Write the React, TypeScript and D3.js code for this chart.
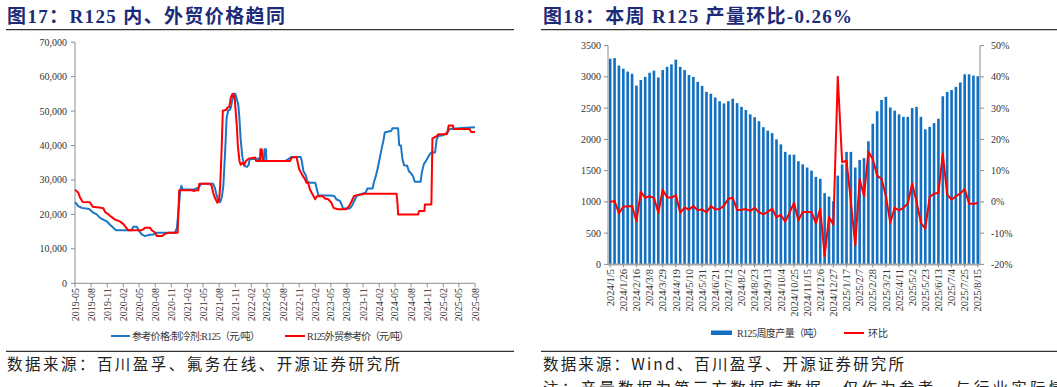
import React from 'react';
import * as d3 from 'd3';

// ---------- Left chart data (图17) ----------
const priceTicks = [0, 10000, 20000, 30000, 40000, 50000, 60000, 70000];
const quarterTicks = [
  '2019-05', '2019-08', '2019-11', '2020-02', '2020-05', '2020-08', '2020-11',
  '2021-02', '2021-05', '2021-08', '2021-11', '2022-02', '2022-05', '2022-08',
  '2022-11', '2023-02', '2023-05', '2023-08', '2023-11', '2024-02', '2024-05',
  '2024-08', '2024-11', '2025-02', '2025-05', '2025-08',
];
const domesticPrice: [string, number][] = [
  ['2019-05-01', 23600], ['2019-05-20', 22400], ['2019-06-08', 21900], ['2019-07-21', 21600],
  ['2019-08-14', 20500], ['2019-09-02', 20000], ['2019-09-21', 19000], ['2019-10-10', 18500],
  ['2019-10-29', 18000], ['2019-11-17', 17000], ['2019-12-06', 16100], ['2019-12-21', 15400],
  ['2020-03-19', 15400], ['2020-03-28', 16400], ['2020-04-19', 16400], ['2020-04-28', 15400],
  ['2020-05-16', 14200], ['2020-06-04', 13700], ['2020-06-22', 14000], ['2020-07-22', 14200],
  ['2020-08-10', 14700], ['2020-11-22', 14700], ['2020-12-03', 16100], ['2020-12-22', 26800],
  ['2020-12-28', 28300], ['2021-01-04', 27300], ['2021-03-07', 27200], ['2021-04-04', 27800],
  ['2021-04-22', 28900], ['2021-06-28', 28900], ['2021-07-07', 27800], ['2021-07-19', 25300],
  ['2021-07-28', 23900], ['2021-08-07', 23600], ['2021-08-16', 24900], ['2021-08-25', 28300],
  ['2021-09-04', 38000], ['2021-09-13', 48200], ['2021-09-22', 50100], ['2021-10-01', 50400],
  ['2021-10-07', 51000], ['2021-10-16', 53500], ['2021-10-22', 55000], ['2021-11-01', 55000],
  ['2021-11-10', 53500], ['2021-11-19', 51600], ['2021-11-25', 47700], ['2021-12-02', 41800],
  ['2021-12-11', 37000], ['2021-12-22', 34100], ['2022-01-07', 33800], ['2022-01-16', 34300],
  ['2022-01-22', 36000], ['2022-03-13', 36200], ['2022-03-16', 35500], ['2022-04-13', 35500],
  ['2022-04-17', 38900], ['2022-04-25', 38900], ['2022-04-28', 35500], ['2022-08-13', 35500],
  ['2022-08-22', 35800], ['2022-09-19', 36700], ['2022-11-10', 36700], ['2022-11-16', 35500],
  ['2022-11-25', 32600], ['2022-12-10', 31200], ['2022-12-16', 29700], ['2023-01-01', 29200],
  ['2023-02-01', 29200], ['2023-02-10', 27300], ['2023-02-19', 25500], ['2023-05-04', 25500],
  ['2023-05-22', 25300], ['2023-06-01', 24400], ['2023-06-22', 23900], ['2023-07-01', 22900],
  ['2023-07-10', 21700], ['2023-08-16', 21700], ['2023-08-28', 22400], ['2023-09-16', 24400],
  ['2023-09-25', 25300], ['2023-10-13', 25800], ['2023-11-16', 26300], ['2023-11-25', 27500],
  ['2023-12-25', 27500], ['2024-01-01', 29200], ['2024-01-13', 31200], ['2024-01-22', 33100],
  ['2024-02-01', 35500], ['2024-02-16', 39400], ['2024-02-25', 41400], ['2024-03-04', 43800],
  ['2024-04-11', 44300], ['2024-04-16', 45000], ['2024-05-19', 45000], ['2024-05-25', 40100],
  ['2024-06-04', 40000], ['2024-06-13', 36000], ['2024-06-22', 34300], ['2024-07-10', 34100],
  ['2024-07-19', 32600], ['2024-08-04', 31700], ['2024-08-13', 31000], ['2024-08-22', 29500],
  ['2024-09-25', 29500], ['2024-10-01', 32100], ['2024-10-13', 34600], ['2024-10-28', 35800],
  ['2024-11-16', 37500], ['2024-11-25', 38000], ['2024-12-16', 38000], ['2024-12-25', 41800],
  ['2025-01-04', 42800], ['2025-02-01', 43000], ['2025-02-25', 43800], ['2025-03-10', 44800],
  ['2025-05-16', 45100], ['2025-08-01', 45300],
];
const exportPrice: [string, number][] = [
  ['2019-05-01', 27200], ['2019-05-20', 26300], ['2019-05-29', 25000], ['2019-06-14', 23600],
  ['2019-07-25', 23500], ['2019-08-05', 22700], ['2019-08-10', 22200], ['2019-09-16', 22000],
  ['2019-10-10', 21800], ['2019-10-20', 20700], ['2019-11-08', 20000], ['2019-11-27', 19200],
  ['2019-12-16', 18500], ['2020-01-14', 17900], ['2020-02-03', 17100], ['2020-02-18', 16100],
  ['2020-03-01', 15400], ['2020-05-16', 15400], ['2020-06-04', 16100], ['2020-07-03', 16100],
  ['2020-07-12', 15400], ['2020-08-01', 14700], ['2020-08-10', 13700], ['2020-09-08', 13700],
  ['2020-09-28', 14400], ['2020-10-16', 14700], ['2020-12-07', 14700], ['2020-12-16', 27000],
  ['2021-02-28', 27000], ['2021-03-07', 26800], ['2021-03-25', 27000], ['2021-04-04', 27000],
  ['2021-04-10', 28900], ['2021-06-10', 28900], ['2021-06-19', 28300], ['2021-06-28', 26300],
  ['2021-07-07', 24900], ['2021-07-22', 23400], ['2021-08-01', 24200], ['2021-08-07', 28300],
  ['2021-08-16', 39900], ['2021-08-22', 50100], ['2021-09-13', 50400], ['2021-09-16', 51000],
  ['2021-09-28', 51200], ['2021-10-07', 54000], ['2021-10-16', 55000], ['2021-10-22', 54000],
  ['2021-10-28', 54500], ['2021-11-01', 51600], ['2021-11-10', 45700], ['2021-11-16', 39900],
  ['2021-11-25', 35500], ['2021-12-02', 34400], ['2021-12-13', 35000], ['2021-12-22', 34400],
  ['2022-01-01', 35500], ['2022-01-16', 36200], ['2022-02-22', 36500], ['2022-02-28', 35500],
  ['2022-03-22', 35500], ['2022-03-25', 38900], ['2022-04-01', 38900], ['2022-04-07', 35500],
  ['2022-09-10', 35500], ['2022-09-19', 36500], ['2022-10-16', 36700], ['2022-10-22', 35500],
  ['2022-11-01', 33100], ['2022-11-16', 31700], ['2022-12-04', 30200], ['2022-12-13', 29200],
  ['2022-12-22', 29200], ['2023-01-01', 27300], ['2023-01-22', 25300], ['2023-02-01', 24400],
  ['2023-02-10', 25300], ['2023-03-16', 25300], ['2023-03-28', 24600], ['2023-04-16', 24400],
  ['2023-05-04', 23400], ['2023-05-16', 21900], ['2023-06-10', 21500], ['2023-07-28', 21500],
  ['2023-08-13', 22400], ['2023-08-28', 23900], ['2023-09-10', 25300], ['2023-09-25', 25600],
  ['2023-10-22', 25800], ['2023-11-10', 26000], ['2024-05-10', 26000], ['2024-05-16', 22900],
  ['2024-05-19', 20000], ['2024-09-10', 20000], ['2024-09-16', 21000], ['2024-10-16', 21000],
  ['2024-10-19', 22900], ['2024-11-25', 22900], ['2024-12-01', 42100], ['2024-12-25', 42700],
  ['2025-01-04', 43300], ['2025-02-22', 43300], ['2025-03-04', 45800], ['2025-03-28', 45800],
  ['2025-04-01', 44800], ['2025-07-01', 44800], ['2025-07-10', 43900], ['2025-08-01', 43900],
];

// ---------- Right chart data (图18) ----------
const weeks = [
  '2024/1/5', '2024/1/12', '2024/1/19', '2024/1/26', '2024/2/2', '2024/2/9', '2024/2/16', '2024/2/23',
  '2024/3/1', '2024/3/8', '2024/3/15', '2024/3/22', '2024/3/29', '2024/4/5', '2024/4/12', '2024/4/19',
  '2024/4/26', '2024/5/3', '2024/5/10', '2024/5/17', '2024/5/24', '2024/5/31', '2024/6/7', '2024/6/14',
  '2024/6/21', '2024/6/28', '2024/7/5', '2024/7/12', '2024/7/19', '2024/7/26', '2024/8/2', '2024/8/9',
  '2024/8/16', '2024/8/23', '2024/8/30', '2024/9/6', '2024/9/13', '2024/9/20', '2024/9/27', '2024/10/4',
  '2024/10/11', '2024/10/18', '2024/10/25', '2024/11/1', '2024/11/8', '2024/11/15', '2024/11/22', '2024/11/29',
  '2024/12/6', '2024/12/13', '2024/12/20', '2024/12/27', '2025/1/3', '2025/1/10', '2025/1/17', '2025/1/24',
  '2025/1/31', '2025/2/7', '2025/2/14', '2025/2/21', '2025/2/28', '2025/3/7', '2025/3/14', '2025/3/21',
  '2025/3/28', '2025/4/4', '2025/4/11', '2025/4/18', '2025/4/25', '2025/5/2', '2025/5/9', '2025/5/16',
  '2025/5/23', '2025/5/30', '2025/6/6', '2025/6/13', '2025/6/20', '2025/6/27', '2025/7/4', '2025/7/11',
  '2025/7/18', '2025/7/25', '2025/8/1', '2025/8/8', '2025/8/15',
];
const output = [
  3290, 3300, 3180, 3130, 3085, 3050, 2860, 2950, 3000, 3065,
  3100, 2990, 3110, 3160, 3200, 3275, 3160, 3110, 3030, 3000,
  2920, 2855, 2760, 2730, 2670, 2610, 2575, 2610, 2650, 2580,
  2520, 2470, 2400, 2355, 2290, 2195, 2140, 2100, 2000, 1920,
  1800, 1755, 1755, 1650, 1600, 1550, 1500, 1400, 1370, 1140,
  1085, 1010, 1420, 1600, 1800, 1800, 1550, 1670, 1700, 1970,
  2250, 2450, 2630, 2680, 2510, 2460, 2400, 2360, 2360, 2500,
  2520, 2360, 2160, 2200, 2260, 2330, 2690, 2760, 2790, 2840,
  2910, 3040, 3040, 3020, 3010,
];
const mom = [
  0.0, 0.3, -3.7, -1.5, -1.5, -1.3, -6.2, 3.2, 1.3, 1.8,
  1.3, -3.5, 3.8, 1.5, 1.3, 2.2, -3.5, -1.8, -2.5, -1.3,
  -2.7, -2.4, -3.4, -1.3, -2.4, -2.3, -1.2, 1.0, 1.3, -2.6,
  -2.5, -2.3, -2.9, -1.9, -3.3, -4.0, -3.2, -2.2, -4.9, -4.2,
  -6.3, -3.4, -0.3, -5.9, -3.2, -3.2, -3.3, -6.8, -2.2, -17.3,
  -4.8, -7.3, 40.0, 12.7, 13.2, 0.0, -13.9, 7.3, 1.8, 16.0,
  13.7, 8.4, 7.3, 1.8, -6.7, -1.9, -2.7, -1.9, -0.5, 5.9,
  0.0, -6.7, -8.6, 1.6, 2.6, 2.9, 15.4, 2.3, 0.7, 1.8,
  2.7, 4.1, -0.5, -0.7, -0.26,
];
const outputTicks = [0, 500, 1000, 1500, 2000, 2500, 3000, 3500];
const momTicks = [-20, -10, 0, 10, 20, 30, 40, 50];

const SERIF = "'Liberation Serif', 'Times New Roman', 'Noto Sans CJK SC', serif";
const CJK = "'Noto Sans CJK SC', 'Liberation Serif', sans-serif";
const TITLE_COLOR = '#1d2a78';
const TICK_COLOR = '#333';
const AXIS_COLOR = '#8c8c8c';
const BLUE = '#1b76c6';
const RED = '#ff0000';

function LeftChart() {
  const parse = d3.timeParse('%Y-%m-%d');
  const parseM = d3.timeParse('%Y-%m');
  const x = d3.scaleTime()
    .domain([parseM('2019-05') as Date, parseM('2025-08') as Date])
    .range([75, 475]);
  const y = d3.scaleLinear().domain([0, 70000]).range([283.3, 42.2]);
  const line = d3.line<[string, number]>()
    .x((d) => x(parse(d[0]) as Date))
    .y((d) => y(d[1]));
  const fmt = d3.format(',');
  return (
    <g>
      {/* axes */}
      <line x1={75} x2={75} y1={y(70000)} y2={y(0)} stroke={AXIS_COLOR} strokeWidth={1} />
      <line x1={75} x2={475} y1={y(0)} y2={y(0)} stroke={AXIS_COLOR} strokeWidth={1} />
      {priceTicks.map((t) => (
        <g key={t}>
          <line x1={71} x2={75} y1={y(t)} y2={y(t)} stroke={AXIS_COLOR} />
          <text x={67} y={y(t)} dy="0.35em" textAnchor="end" fontFamily={SERIF} fontSize={10} fill={TICK_COLOR}>
            {fmt(t)}
          </text>
        </g>
      ))}
      {quarterTicks.map((q) => {
        const px = x(parseM(q) as Date);
        return (
          <g key={q}>
            <line x1={px} x2={px} y1={y(0)} y2={y(0) + 4} stroke={AXIS_COLOR} />
            <text
              transform={`translate(${px},${288}) rotate(-90)`}
              dy="0.35em"
              textAnchor="end"
              fontFamily={SERIF}
              fontSize={10}
              fill={TICK_COLOR}
            >
              {q}
            </text>
          </g>
        );
      })}
      {/* series */}
      <path d={line(domesticPrice) || ''} fill="none" stroke={BLUE} strokeWidth={2} strokeLinejoin="round" />
      <path d={line(exportPrice) || ''} fill="none" stroke={RED} strokeWidth={2} strokeLinejoin="round" />
      {/* legend */}
      <line x1={111} x2={130} y1={336} y2={336} stroke={BLUE} strokeWidth={2} />
      <text x={132} y={336} dy="0.35em" fontFamily={SERIF} fontSize={10} fill={TICK_COLOR} textLength={128}>
        参考价格:制冷剂:R125（元/吨）
      </text>
      <line x1={285} x2={305} y1={336} y2={336} stroke={RED} strokeWidth={2} />
      <text x={307} y={336} dy="0.35em" fontFamily={SERIF} fontSize={10} fill={TICK_COLOR} textLength={102}>
        R125外贸参考价（元/吨）
      </text>
    </g>
  );
}

function RightChart() {
  const x = d3.scaleBand<string>().domain(weeks).range([608, 980]).paddingInner(0.4).paddingOuter(0.2);
  const yL = d3.scaleLinear().domain([0, 3500]).range([264.4, 45.6]);
  const yR = d3.scaleLinear().domain([-20, 50]).range([264.4, 45.6]);
  const step = x.step();
  const cx = (w: string) => (x(w) as number) + x.bandwidth() / 2;
  const line = d3.line<number>()
    .x((_, i) => cx(weeks[i]))
    .y((d) => yR(d));
  return (
    <g>
      {/* bars */}
      {output.map((v, i) => (
        <rect
          key={weeks[i]}
          x={x(weeks[i])}
          y={yL(v)}
          width={x.bandwidth()}
          height={yL(0) - yL(v)}
          fill="#1270c2"
        />
      ))}
      {/* axes */}
      <line x1={608} x2={608} y1={yL(3500)} y2={yL(0)} stroke={AXIS_COLOR} />
      <line x1={980} x2={980} y1={yL(3500)} y2={yL(0)} stroke={AXIS_COLOR} />
      <line x1={608} x2={980} y1={yL(0)} y2={yL(0)} stroke="#a6a6a6" strokeWidth={2} />
      {outputTicks.map((t) => (
        <g key={t}>
          <line x1={604} x2={608} y1={yL(t)} y2={yL(t)} stroke={AXIS_COLOR} />
          <text x={601} y={yL(t)} dy="0.35em" textAnchor="end" fontFamily={SERIF} fontSize={10} fill={TICK_COLOR}>
            {t}
          </text>
        </g>
      ))}
      {momTicks.map((t) => (
        <g key={t}>
          <line x1={980} x2={984} y1={yR(t)} y2={yR(t)} stroke={AXIS_COLOR} />
          <text x={991} y={yR(t)} dy="0.35em" textAnchor="start" fontFamily={SERIF} fontSize={10} fill={TICK_COLOR}>
            {`${t}%`}
          </text>
        </g>
      ))}
      {weeks.map((w, i) =>
        i % 3 === 0 ? (
          <g key={w}>
            <line x1={cx(w)} x2={cx(w)} y1={yL(0)} y2={yL(0) + 3} stroke={AXIS_COLOR} />
            <text
              transform={`translate(${cx(w)},${269}) rotate(-90)`}
              dy="0.35em"
              textAnchor="end"
              fontFamily={SERIF}
              fontSize={10.5}
              fill={TICK_COLOR}
            >
              {w}
            </text>
          </g>
        ) : null
      )}
      {/* line */}
      <path d={line(mom) || ''} fill="none" stroke={RED} strokeWidth={2} strokeLinejoin="round" />
      {/* legend */}
      <rect x={711} y={330.5} width={21} height={4.5} fill="#1270c2" />
      <text x={737} y={333} dy="0.35em" fontFamily={SERIF} fontSize={10} fill={TICK_COLOR} textLength={86}>
        R125周度产量（吨）
      </text>
      <line x1={844} x2={864} y1={333} y2={333} stroke={RED} strokeWidth={2} />
      <text x={868} y={333} dy="0.35em" fontFamily={SERIF} fontSize={10} fill={TICK_COLOR}>
        环比
      </text>
      {step ? null : null}
    </g>
  );
}

export default function App() {
  return (
    <svg
      width={1057}
      height={387}
      viewBox="0 0 1057 387"
      style={{ position: 'absolute', left: 0, top: 0, background: '#fff' }}
    >
      <rect x={0} y={0} width={1057} height={387} fill="#fff" />
      {/* titles */}
      <text x={7} y={23} fontFamily={SERIF} fontWeight="bold" fontSize={19} fill={TITLE_COLOR} textLength={278}>
        图17：R125 内、外贸价格趋同
      </text>
      <text x={543} y={23} fontFamily={SERIF} fontWeight="bold" fontSize={19} fill={TITLE_COLOR} textLength={309}>
        图18：本周 R125 产量环比-0.26%
      </text>
      <line x1={6} x2={514} y1={29.7} y2={29.7} stroke="#333" strokeWidth={1.3} />
      <line x1={541} x2={1057} y1={29.7} y2={29.7} stroke="#333" strokeWidth={1.3} />

      <LeftChart />
      <RightChart />

      {/* footers */}
      <line x1={6} x2={514} y1={351.4} y2={351.4} stroke="#333" strokeWidth={1.3} />
      <line x1={541} x2={1057} y1={351.4} y2={351.4} stroke="#333" strokeWidth={1.3} />
      <text x={7} y={370} fontFamily={CJK} fontSize={15.5} fill="#222" textLength={393}>
        数据来源：百川盈孚、氟务在线、开源证券研究所
      </text>
      <text x={543} y={370} fontFamily={CJK} fontSize={15.5} fill="#222" textLength={361}>
        数据来源：Wind、百川盈孚、开源证券研究所
      </text>
      <text x={543} y={394} fontFamily={CJK} fontSize={15.5} fill="#222" textLength={540}>
        注：产量数据为第三方数据库数据，仅作为参考，与行业实际情况
      </text>
    </svg>
  );
}
